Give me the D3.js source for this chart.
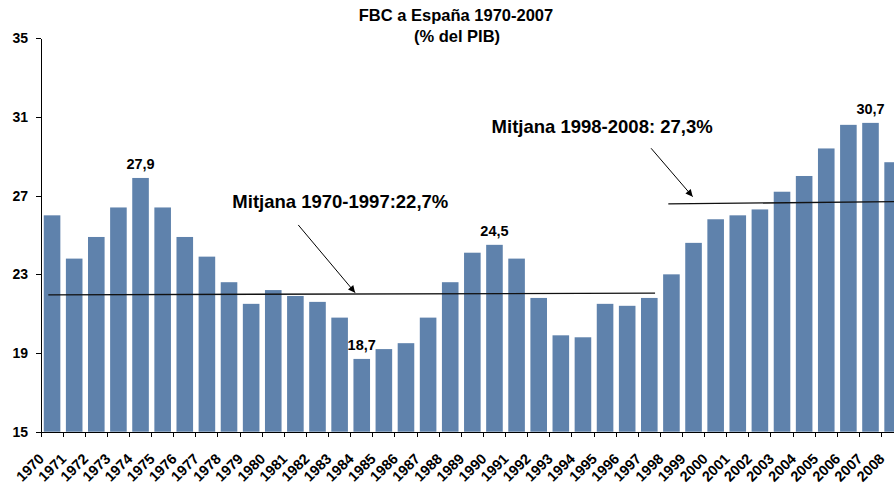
<!DOCTYPE html>
<html lang="es">
	<head>
		<meta charset="utf-8">
		<title>FBC a España 1970-2007</title>
		<script type="text/javascript" src="https://cdn.jsdelivr.net/npm/d3@7/dist/d3.min.js"></script>
		<style type="text/css">
			body {
				margin: 0;
				background: white;
			}
			svg text {
				font-family: Arial, "Liberation Sans", sans-serif;
				font-weight: bold;
				fill: black;
			}
			.axis path,
			.axis line {
				stroke: black;
				shape-rendering: crispEdges;
			}
			.x.axis text {
				font-size: 14.5px;
			}
			.y.axis text {
				font-size: 14px;
			}
		</style>
	</head>
	<body>
		<script type="text/javascript">
			//Data
			var years = ["1970", "1971", "1972", "1973", "1974", "1975", "1976", "1977", "1978", "1979",
				"1980", "1981", "1982", "1983", "1984", "1985", "1986", "1987", "1988", "1989",
				"1990", "1991", "1992", "1993", "1994", "1995", "1996", "1997", "1998", "1999",
				"2000", "2001", "2002", "2003", "2004", "2005", "2006", "2007", "2008"];
			var fbc = [26.0, 23.8, 24.9, 26.4, 27.9, 26.4, 24.9, 23.9, 22.6, 21.5,
				22.2, 21.9, 21.6, 20.8, 18.7, 19.2, 19.5, 20.8, 22.6, 24.1,
				24.5, 23.8, 21.8, 19.9, 19.8, 21.5, 21.4, 21.8, 23.0, 24.6,
				25.8, 26.0, 26.3, 27.2, 28.0, 29.4, 30.6, 30.7, 28.7];
			var yTicks = [15, 19, 23, 27, 31, 35];
			var labelledYears = ["1974", "1984", "1990", "2007"];

			//Average lines, in [category position, value]
			var avgLine1 = [[0.33, 21.96], [27.76, 22.04]];
			var avgLine2 = [[28.36, 26.58], [39, 26.7]];
			var arrow1 = [[11.63, 25.51], [14.2, 22.07]];
			var arrow2 = [[27.58, 29.41], [29.46, 26.95]];
			var notes = [
				{ text: "Mitjana 1970-1997:22,7%", pos: 8.65, value: 26.37 },
				{ text: "Mitjana 1998-2008: 27,3%", pos: 20.37, value: 30.2 }
			];

			//Width and height
			var w = 894;
			var h = 488;
			var plotLeft = 41;
			var step = 22.12;
			var plotTop = 38.3;
			var plotBottom = 431.7;

			//Scales
			var xScale = d3.scaleBand()
				.domain(years)
				.range([plotLeft, plotLeft + step * years.length])
				.paddingInner(0.25)
				.paddingOuter(0.125);

			var xPos = d3.scaleLinear()
				.domain([0, years.length])
				.range([plotLeft, plotLeft + step * years.length]);

			var yScale = d3.scaleLinear()
				.domain([15, 35])
				.range([plotBottom, plotTop]);

			var fmt = function(v) { return d3.format(".1f")(v).replace(".", ","); };

			//Create SVG element
			var svg = d3.select("body")
				.append("svg")
				.attr("width", w)
				.attr("height", h);

			svg.append("defs")
				.append("marker")
				.attr("id", "arrow")
				.attr("viewBox", "0 0 10 10")
				.attr("refX", 10)
				.attr("refY", 5)
				.attr("markerUnits", "userSpaceOnUse")
				.attr("markerWidth", 9)
				.attr("markerHeight", 7)
				.attr("orient", "auto")
				.append("path")
				.attr("d", "M0,0L10,5L0,10z")
				.attr("fill", "black");

			//Title
			svg.append("text")
				.attr("x", 456)
				.attr("y", 21)
				.attr("text-anchor", "middle")
				.style("font-size", "16.5px")
				.text("FBC a España 1970-2007");

			svg.append("text")
				.attr("x", 457)
				.attr("y", 42)
				.attr("text-anchor", "middle")
				.style("font-size", "16.5px")
				.text("(% del PIB)");

			//Create bars
			svg.append("g")
				.selectAll("rect")
				.data(fbc)
				.enter()
				.append("rect")
				.attr("x", function(d, i) { return xScale(years[i]); })
				.attr("y", function(d) { return yScale(d); })
				.attr("width", xScale.bandwidth())
				.attr("height", function(d) { return yScale(15) - yScale(d); })
				.attr("fill", "rgb(95, 130, 172)");

			//Value labels
			svg.append("g")
				.selectAll("text")
				.data(labelledYears)
				.enter()
				.append("text")
				.attr("x", function(d) { return xScale(d) + xScale.bandwidth() / 2; })
				.attr("y", function(d) { return yScale(fbc[years.indexOf(d)]) - 9; })
				.attr("text-anchor", "middle")
				.style("font-size", "14.5px")
				.text(function(d) { return fmt(fbc[years.indexOf(d)]); });

			//Axes
			var yAxis = d3.axisLeft(yScale)
				.tickValues(yTicks)
				.tickSize(5)
				.tickPadding(8)
				.tickSizeOuter(0);

			svg.append("g")
				.attr("class", "y axis")
				.attr("transform", "translate(" + plotLeft + ",0)")
				.call(yAxis);

			var xAxis = d3.axisBottom(xScale)
				.tickSize(5)
				.tickSizeOuter(0);

			var gx = svg.append("g")
				.attr("class", "x axis")
				.attr("transform", "translate(0," + plotBottom + ")")
				.call(xAxis);

			//Ticks sit between categories, labels end at the left tick
			gx.selectAll(".tick line")
				.attr("x1", -step / 2)
				.attr("x2", -step / 2);

			gx.selectAll(".tick text")
				.attr("x", 0)
				.attr("y", 0)
				.attr("dy", 0)
				.attr("text-anchor", "end")
				.attr("transform", "translate(" + (-step / 2 + 4) + ",28) rotate(-45)");

			//Average lines and notes
			var line = d3.line()
				.x(function(d) { return xPos(d[0]); })
				.y(function(d) { return yScale(d[1]); });

			svg.selectAll(".avg")
				.data([avgLine1, avgLine2])
				.enter()
				.append("path")
				.attr("class", "avg")
				.attr("d", line)
				.attr("fill", "none")
				.attr("stroke", "#111")
				.attr("stroke-width", 1.3);

			svg.selectAll(".arrow")
				.data([arrow1, arrow2])
				.enter()
				.append("path")
				.attr("class", "arrow")
				.attr("d", line)
				.attr("fill", "none")
				.attr("stroke", "black")
				.attr("stroke-width", 1)
				.attr("marker-end", "url(#arrow)");

			svg.selectAll(".note")
				.data(notes)
				.enter()
				.append("text")
				.attr("class", "note")
				.attr("x", function(d) { return xPos(d.pos); })
				.attr("y", function(d) { return yScale(d.value); })
				.style("font-size", "18.5px")
				.text(function(d) { return d.text; });
		</script>
	</body>
</html>
